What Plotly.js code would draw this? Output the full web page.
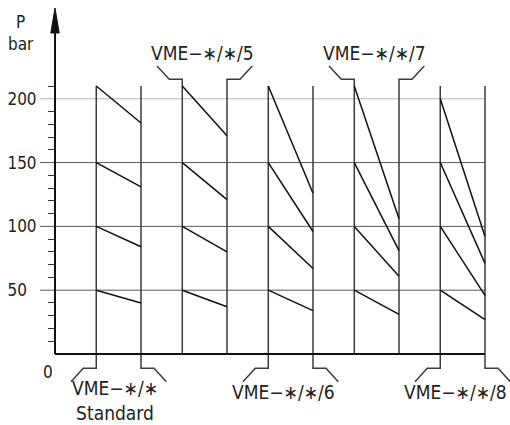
<!DOCTYPE html>
<html>
<head>
<meta charset="utf-8">
<script src="https://cdn.plot.ly/plotly-3.0.1.min.js"></script>
<style>
  html, body { margin: 0; padding: 0; background: #fff; }
  #chart { width: 510px; height: 425px; }
</style>
</head>
<body>
<div id="chart"></div>
<script>
/* pressure drop per valve variant: start level -> end level (bar) */
const groupLabels = ['VME\u2212\u2217/\u2217<br>Standard', 'VME\u2212\u2217/\u2217/5', 'VME\u2212\u2217/\u2217/6', 'VME\u2212\u2217/\u2217/7', 'VME\u2212\u2217/\u2217/8'];
const labelSide = ['bottom', 'top', 'bottom', 'top', 'bottom'];

const startStandard = [210, 150, 100, 50];
const endStandard   = [181, 131, 84, 40];
const start5 = [210, 150, 100, 50];
const end5   = [171, 121, 80, 37];
const start6 = [210, 150, 100, 50];
const end6   = [126, 96, 67, 34];
const start7 = [210, 150, 100, 50];
const end7   = [106, 81, 61, 31];
const start8 = [200, 150, 100, 50];
const end8   = [92, 71, 46, 27];

const yTickVals = [50, 100, 150, 200];
const yTickText = ['50\u2007', '100', '150', '200'];   // labels sit left-aligned
const yMinorTicks = [10, 20, 30, 40, 60, 70, 80, 90, 110, 120, 130, 140, 160, 170, 180, 190, 210];

const starts = [startStandard, start5, start6, start7, start8];
const ends = [endStandard, end5, end6, end7, end8];

/* drawing scale: one group = 86px, one bar = 1.2762px */
const PX_X = 86;
const PX_Y = 1.2762;
const FONT = '"Liberation Sans Narrow", "DejaVu Sans Condensed", sans-serif';
const TOP_LINE = 210;          // top of the group lines
const GAP = 0.48;              // where the group starts inside its slot

function px(n) { return n / PX_X; }
function pb(n) { return n / PX_Y; }

/* slopes */
var slopeX = [], slopeY = [];
/* group lines + leaders */
var lineX = [], lineY = [];

for (var i = 0; i < starts.length; i++) {
    var x0 = i + GAP, x1 = i + 1;
    for (var k = 0; k < starts[i].length; k++) {
        slopeX.push(x0, x1, null);
        slopeY.push(starts[i][k], ends[i][k], null);
    }
    var h = px(13), d = px(12.3);
    if (labelSide[i] == 'bottom') {
        var yb = -pb(14.3), yd = -pb(27.7);
        lineX.push(x0, x0, x0 - h, x0 - h - d, null, x1, x1, x1 + h, x1 + h + d, null);
        lineY.push(TOP_LINE, yb, yb, yd, null, TOP_LINE, yb, yb, yd, null);
    } else {
        var yt = TOP_LINE + pb(6.7), ytd = TOP_LINE + pb(20);
        lineX.push(x0, x0, x0 - h, x0 - h - d, null, x1, x1, x1 + h, x1 + h + d, null);
        lineY.push(0, yt, yt, ytd, null, 0, yt, yt, ytd, null);
    }
}

var traces = [{
    x: lineX, y: lineY,
    type: 'scatter', mode: 'lines',
    line: {color: '#3c3c3c', width: 1.5},
    hoverinfo: 'skip', showlegend: false
}, {
    x: slopeX, y: slopeY,
    type: 'scatter', mode: 'lines',
    line: {color: '#111', width: 1.5},
    hoverinfo: 'skip', showlegend: false
}];

var shapes = [];
// grid lines (they also act as the long ticks)
yTickVals.forEach(function(v) {
    shapes.push({
        type: 'line', xref: 'x', yref: 'y', layer: 'below',
        x0: -px(15), x1: starts.length, y0: v, y1: v,
        line: {color: v == 200 ? '#b4b4b4' : '#5a5a5a', width: 1}
    });
});
// base line and pressure axis with arrow
shapes.push({type: 'line', xref: 'x', yref: 'y', x0: 0, x1: starts.length, y0: 0, y1: 0,
             line: {color: '#111', width: 2}});
shapes.push({type: 'line', xref: 'x', yref: 'y', x0: 0, x1: 0, y0: 0, y1: 255,
             line: {color: '#111', width: 2}});
shapes.push({type: 'path', xref: 'x', yref: 'y',
             path: 'M 0 ' + pb(346) + ' L ' + (-px(4.2)) + ' ' + pb(321) + ' L ' + px(4.2) + ' ' + pb(321) + ' Z',
             fillcolor: '#111', line: {color: '#111', width: 1}});

var annotations = [];
for (var i = 0; i < groupLabels.length; i++) {
    var cx = i + (GAP + 1) / 2;
    if (labelSide[i] == 'top') {
        annotations.push({x: cx, y: TOP_LINE + pb(33), xshift: -2, text: groupLabels[i],
                          showarrow: false, xanchor: 'center', yanchor: 'middle',
                          font: {family: FONT, size: 19, color: '#222'}});
    } else {
        var twoLines = groupLabels[i].indexOf('<br>') >= 0;
        annotations.push({x: cx, y: twoLines ? -pb(46.8) : -pb(37.7), xshift: twoLines ? -4 : -7,
                          text: groupLabels[i], showarrow: false, xanchor: 'center', yanchor: 'middle',
                          font: {family: FONT, size: 19, color: '#222'}});
    }
}
annotations.push({x: -px(7), y: -pb(17.5), text: '0', showarrow: false,
                  xanchor: 'center', yanchor: 'middle', font: {family: FONT, size: 17, color: '#222'}});
annotations.push({x: -px(34), y: pb(321), text: 'P<br>bar', showarrow: false,
                  xanchor: 'center', yanchor: 'middle', font: {family: FONT, size: 17, color: '#222'}});

var layout = {
    width: 510, height: 425,
    margin: {l: 0, r: 0, t: 0, b: 0},
    paper_bgcolor: '#fff', plot_bgcolor: '#fff',
    showlegend: false,
    xaxis: {range: [-px(55), starts.length + px(25)], visible: false, fixedrange: true},
    yaxis: {
        range: [-pb(71), pb(354)],
        anchor: 'free', position: 55 / 510,
        showline: false, showgrid: false, zeroline: false,
        ticks: 'outside', ticklen: 15, tickcolor: 'rgba(0,0,0,0)',
        tickvals: yTickVals, ticktext: yTickText,
        tickfont: {family: FONT, size: 17, color: '#222'},
        minor: {tickvals: yMinorTicks, ticks: 'outside', ticklen: 7, tickcolor: '#333', tickwidth: 1, showgrid: false},
        fixedrange: true
    },
    shapes: shapes,
    annotations: annotations
};

Plotly.newPlot('chart', traces, layout, {displayModeBar: false, staticPlot: true});
</script>
</body>
</html>
